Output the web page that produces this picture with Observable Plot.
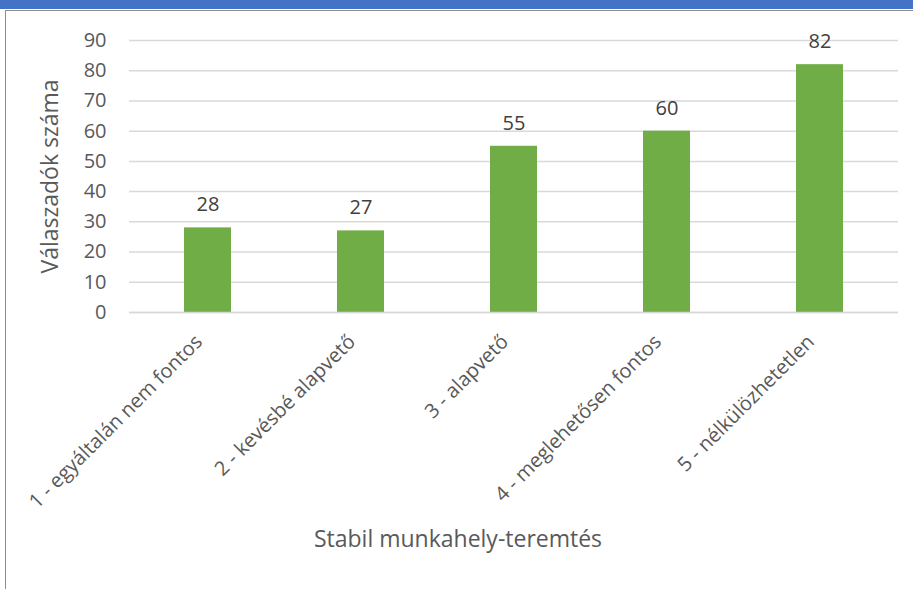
<!DOCTYPE html>
<html><head><meta charset="utf-8">
<script src="https://cdn.jsdelivr.net/npm/d3@7"></script>
<script src="https://cdn.jsdelivr.net/npm/@observablehq/plot@0.6"></script>
<style>
body{margin:0;background:#fff;}
#wrap{position:relative;width:913px;height:589px;overflow:hidden;background:#fff;}
#strip{position:absolute;left:0;top:0;width:913px;height:9px;background:#4472C4;}
#frame{position:absolute;left:5px;top:10px;width:920px;height:600px;border-left:1.5px solid #8c8c8c;border-top:1.5px solid #8c8c8c;}
#chart{position:absolute;left:0;top:0;}
</style></head>
<body><div id="wrap"><div id="strip"></div><div id="frame"></div><div id="chart"></div></div>
<script>
const categories = ["1 - egyáltalán nem fontos","2 - kevésbé alapvető","3 - alapvető","4 - meglehetősen fontos","5 - nélkülözhetetlen"];
const values = [28, 27, 55, 60, 82];
const yTicks = [0,10,20,30,40,50,60,70,80,90];
const data = categories.map((c,i)=>({cat:c, v:values[i]}));
const font = "'Open Sans', sans-serif";
const chart = Plot.plot({
  width: 913, height: 589,
  marginTop: 40, marginBottom: 277, marginLeft: 129, marginRight: 15,
  style: {fontFamily: font, fontSize: "20px", color: "#595959", background: "transparent"},
  x: {domain: categories, paddingInner: 0.69, paddingOuter: 0.345, label: null},
  y: {domain: [0, 90], label: null},
  marks: [
    Plot.gridY(yTicks, {stroke: "#d9d9d9", strokeOpacity: 1, strokeWidth: 1.5}),
    Plot.barY(data, {x: "cat", y: "v", fill: "#70AD47"}),
    Plot.ruleY([0], {stroke: "#d9d9d9", strokeWidth: 1.5}),
    Plot.text(data, {x: "cat", y: "v", text: d => String(d.v), dy: -23, fill: "#404040", fontSize: 20}),
    Plot.axisY(yTicks, {tickSize: 0, tickPadding: 23, fontSize: 20, fill: "#595959", label: null}),
    Plot.axisX({tickSize: 0, tickRotate: -45, tickPadding: 8, dx: -9, dy: 18, fontSize: 20, fill: "#595959", label: null}),
    Plot.text(["Válaszadók száma"], {frameAnchor: "left", dx: -79, rotate: -90, textAnchor: "middle", fontSize: 23, fill: "#595959"}),
    Plot.text(["Stabil munkahely-teremtés"], {frameAnchor: "bottom", dx: -56, dy: 234, fontSize: 23, fill: "#595959"})
  ]
});
document.getElementById("chart").appendChild(chart);
</script></body></html>
